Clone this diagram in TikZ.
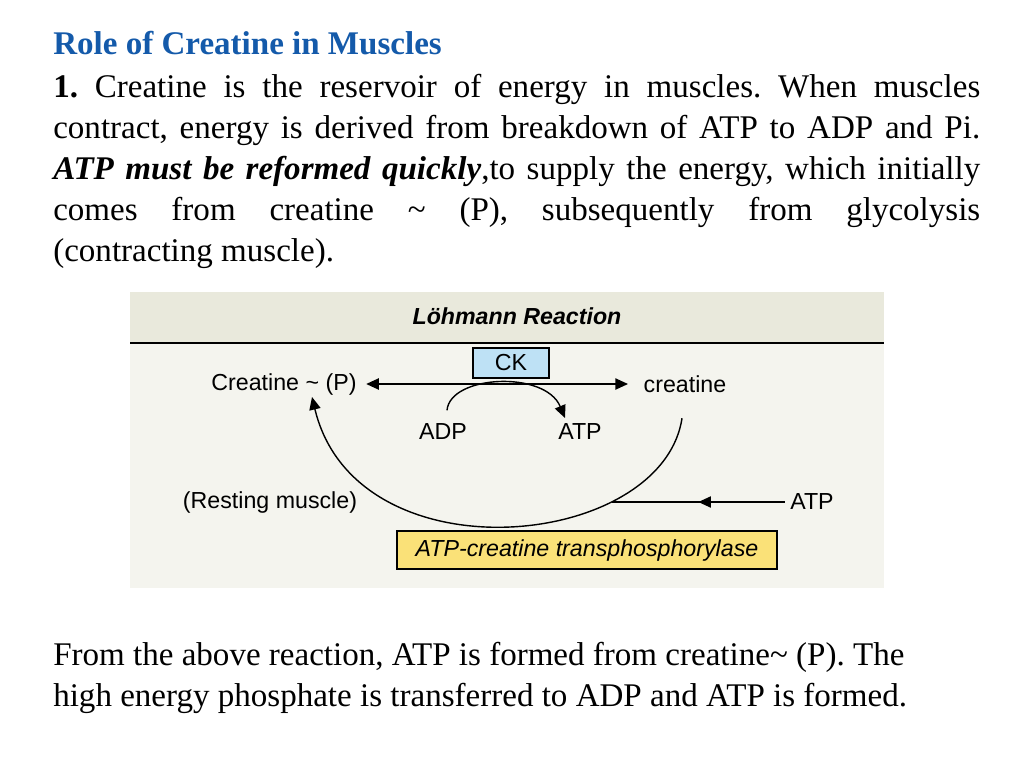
\documentclass[tikz,border=0pt]{standalone}
\usepackage{fontspec}
\setmainfont{Liberation Serif}
\setsansfont{Liberation Sans}
\usetikzlibrary{arrows.meta,decorations.markings}
\definecolor{titleblue}{RGB}{20,90,170}
\definecolor{panelbg}{RGB}{244,244,238}
\definecolor{headbg}{RGB}{233,233,220}
\definecolor{ckblue}{RGB}{190,225,245}
\definecolor{enzyellow}{RGB}{250,225,120}
\frenchspacing
\begin{document}
\begin{tikzpicture}[x=0.025cm,y=-0.025cm,
  bodyT/.style={inner sep=0,font=\fontsize{23.5}{29.2}\selectfont},
  diagT/.style={font=\sffamily\fontsize{16.5}{18}\selectfont,inner sep=1pt},
  boxS/.style={draw=black,line width=1pt,inner sep=2pt},
  arrS/.style={line width=1pt,-{Triangle[length=9pt,width=8pt]}}]
\useasboundingbox (0,0) rectangle (1024,768);
% text above
\node[bodyT,anchor=base west,text=titleblue,font=\bfseries\fontsize{23.5}{29.2}\selectfont] (title) at (53,55) {Role of Creatine in Muscles};
\node[bodyT,anchor=north west,text width=927*0.025cm,align=justify] (para) at (53,74)
 {\textbf{1.} Creatine is the reservoir of energy in muscles. When muscles\linebreak
  contract, energy is derived from breakdown of ATP to ADP and Pi.\linebreak
  \textbf{\textit{ATP must be reformed quickly}},to supply the energy, which initially\linebreak
  comes from creatine \~{} (P), subsequently from glycolysis\linebreak
  (contracting muscle).};
% panel
\fill[panelbg] (130,292) rectangle (884,588);
\fill[headbg] (130,292) rectangle (884,343);
\draw[line width=1.5pt] (130,343) -- (884,343);
\node[diagT,font=\sffamily\bfseries\itshape\fontsize{16.5}{18}\selectfont] (head) at (517,316) {Löhmann Reaction};
\node[diagT,boxS,fill=ckblue,minimum width=76*0.025cm,minimum height=30*0.025cm] (ck) at (511,363) {CK};
\node[diagT] (crp) at (284,384) {Creatine \~{} (P)};
\node[diagT] (cr) at (685,384) {creatine};
\node[diagT] (adp) at (443,432) {ADP};
\node[diagT] (atp) at (580,432) {ATP};
\node[diagT] (rest) at (270,502) {(Resting muscle)};
\node[diagT] (atp2) at (812,502) {ATP};
\node[diagT,boxS,fill=enzyellow,minimum width=380*0.025cm,minimum height=38*0.025cm,font=\sffamily\itshape\fontsize{16.5}{18}\selectfont] (enz) at (587,550) {ATP-creatine transphosphorylase};
\coordinate (hit) at (612,502);
% connectors
\draw[line width=1pt,{Triangle[length=9pt,width=8pt]}-{Triangle[length=9pt,width=8pt]}] (crp.east)++(8,0) coordinate (l) (l) -- (cr.west -| 628,0) ;
\draw[arrS] (adp.north)++(4,-12) coordinate (a0) (a0) .. controls (450,375) and (545,370) .. (565,418);
\draw[arrS] (cr.south)++(-3,24) coordinate (b0) (b0) .. controls (662,550) and (356,580) .. (312,397);
\draw[line width=1pt,decoration={markings,mark=at position 0.5 with {\arrow{Triangle[length=9pt,width=8pt]}}},postaction={decorate}] (atp2.west)++(-4,0) coordinate (r0) (r0) -- (hit);
% text below
\node[bodyT,anchor=base west] (low1) at (53,665) {From the above reaction, ATP is formed from creatine\~{} (P). The};
\node[bodyT,anchor=base west] (low2) at (53,706) {high energy phosphate is transferred to ADP and ATP is formed.};
\end{tikzpicture}
\end{document}
